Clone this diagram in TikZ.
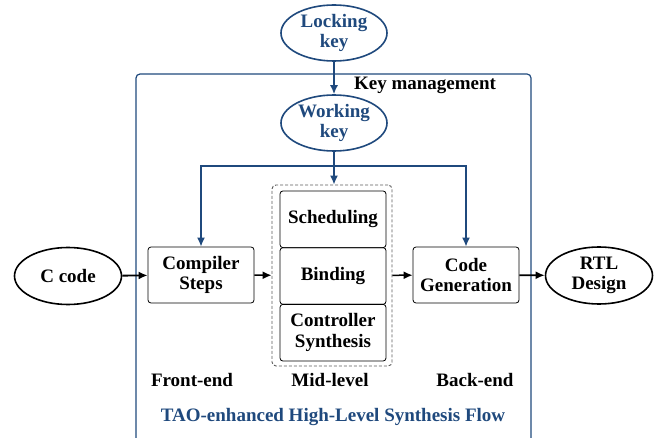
\documentclass[tikz,border=0pt]{standalone}
\usepackage{fontspec}
\setmainfont{Liberation Serif}
\usetikzlibrary{shapes.geometric,arrows.meta}
\definecolor{taoblue}{RGB}{31,73,125}
\definecolor{dashgray}{RGB}{90,90,90}
\tikzset{
  lbl/.style={font=\bfseries\fontsize{19}{20.5}\selectfont, align=center, inner sep=0pt},
  keynode/.style={lbl, ellipse, draw=taoblue, text=taoblue, line width=1.6pt, minimum width=106pt, minimum height=56pt},
  ionode/.style={lbl, ellipse, draw, line width=1.6pt, minimum width=107pt, minimum height=57pt},
  stagebox/.style={lbl, rectangle, rounded corners=3pt, draw, line width=0.8pt, minimum width=106pt, minimum height=56pt},
  flow/.style={-{Latex[length=9pt,width=8pt]}, line width=1.5pt},
  keyflow/.style={flow, draw=taoblue}
}
\begin{document}
\begin{tikzpicture}[x=1pt,y=-1pt]
\clip (0,0) rectangle (655,438);

% key management frame
\draw [taoblue, line width=1.2pt, rounded corners=4pt] (136,74) rectangle (531,470);
\node [lbl, anchor=base] (keymgmt) at (425,90) {Key management};

% keys
\node [keynode] (lock) at (334,33) {Locking\\key};
\node [keynode] (work) at (334,123) {Working\\key};

% input / output
\node [ionode] (ccode) at (68,276) {C code};
\node [ionode] (rtl) at (599,275.5) {RTL\\Design};

% stages
\node [stagebox] (comp) at (201,275) {Compiler\\Steps};
\node [stagebox] (gen) at (466,275) {Code\\Generation};

% mid-level
\node [rectangle, draw=dashgray, dash pattern=on 3pt off 2pt, line width=0.9pt, rounded corners=4pt,
       minimum width=120pt, minimum height=181pt] (mid) at (332,275.5) {};
\node [stagebox, minimum height=56.7pt] (sched) at (333,219.3) {Scheduling};
\node [stagebox, minimum height=56.7pt] (bind) at (333,276) {Binding};
\node [stagebox, minimum height=56.7pt] (ctrl) at (333,332.7) {Controller\\Synthesis};

% key arrows
\coordinate (split) at (334,166);
\draw [keyflow] (lock) -- (work);
\draw [keyflow] (work) -- (work |- mid.north);
\draw [keyflow, {Latex[length=9pt,width=8pt]}-{Latex[length=9pt,width=8pt]}]
  (comp.north) -- (comp.north |- split) -- (gen.north |- split) -- (gen.north);

% flow arrows
\draw [flow, line width=1.9pt] (ccode) -- (comp);
\draw [flow] (comp) -- (mid);
\draw [flow] (mid) -- (gen);
\draw [flow, line width=1.9pt] (gen) -- (rtl);

% captions
\node [lbl, anchor=base] (front) at (192,386) {Front-end};
\node [lbl, anchor=base] (midlvl) at (330,386) {Mid-level};
\node [lbl, anchor=base] (back) at (475,386) {Back-end};
\node [lbl, anchor=base, text=taoblue] (title) at (333,421) {TAO-enhanced High-Level Synthesis Flow};
\end{tikzpicture}
\end{document}
